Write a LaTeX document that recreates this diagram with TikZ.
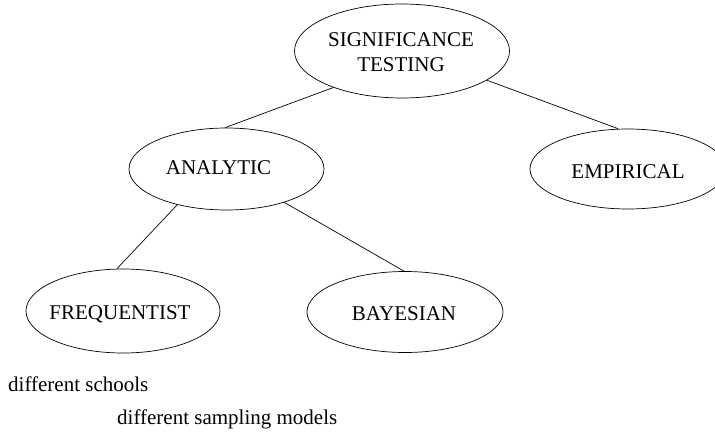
\documentclass[tikz,border=0pt]{standalone}
\usepackage{fontspec}
\setmainfont{Liberation Serif}
\usetikzlibrary{shapes.geometric}
\begin{document}
\begin{tikzpicture}[x=1pt,y=-1pt,
  oval/.style={draw,ellipse,inner sep=0pt,line width=0.7pt},
  lbl/.style={inner sep=0pt,anchor=base,font=\fontsize{21}{25}\selectfont},
  txt/.style={inner sep=0pt,anchor=base west,font=\fontsize{21}{25}\selectfont},
  link/.style={line width=0.7pt}]
\useasboundingbox (0,0) rectangle (715,434);
\node[oval,minimum width=215pt,minimum height=94pt] (sig) at (402,51) {};
\node[oval,minimum width=195pt,minimum height=82pt] (ana) at (226.5,169) {};
\node[oval,minimum width=196pt,minimum height=80pt] (emp) at (628,169) {};
\node[oval,minimum width=194pt,minimum height=84pt] (freq) at (123,311) {};
\node[oval,minimum width=196pt,minimum height=81pt] (bay) at (405,312) {};
\node[inner sep=0pt,anchor=north,align=center,font=\fontsize{21}{25}\selectfont] (sigt) at (401,32) {SIGNIFICANCE\\TESTING};
\node[lbl] (anat) at (218.5,174) {ANALYTIC};
\node[lbl] (empt) at (628,178) {EMPIRICAL};
\node[lbl] (freqt) at (120,319) {FREQUENTIST};
\node[lbl] (bayt) at (404,320) {BAYESIAN};
\node[txt] (t1) at (8,391) {different schools};
\node[txt] (t2) at (117,424) {different sampling models};
\draw[link] (sig.208.3) -- ([xshift=-1.5pt]ana.north);
\draw[link] (sig.341.8) -- ([xshift=-10pt]emp.north);
\draw[link] (ana.216.1) -- ([xshift=-6pt]freq.north);
\draw[link] (ana.330.9) -- ([xshift=-1pt]bay.north);
\end{tikzpicture}
\end{document}
